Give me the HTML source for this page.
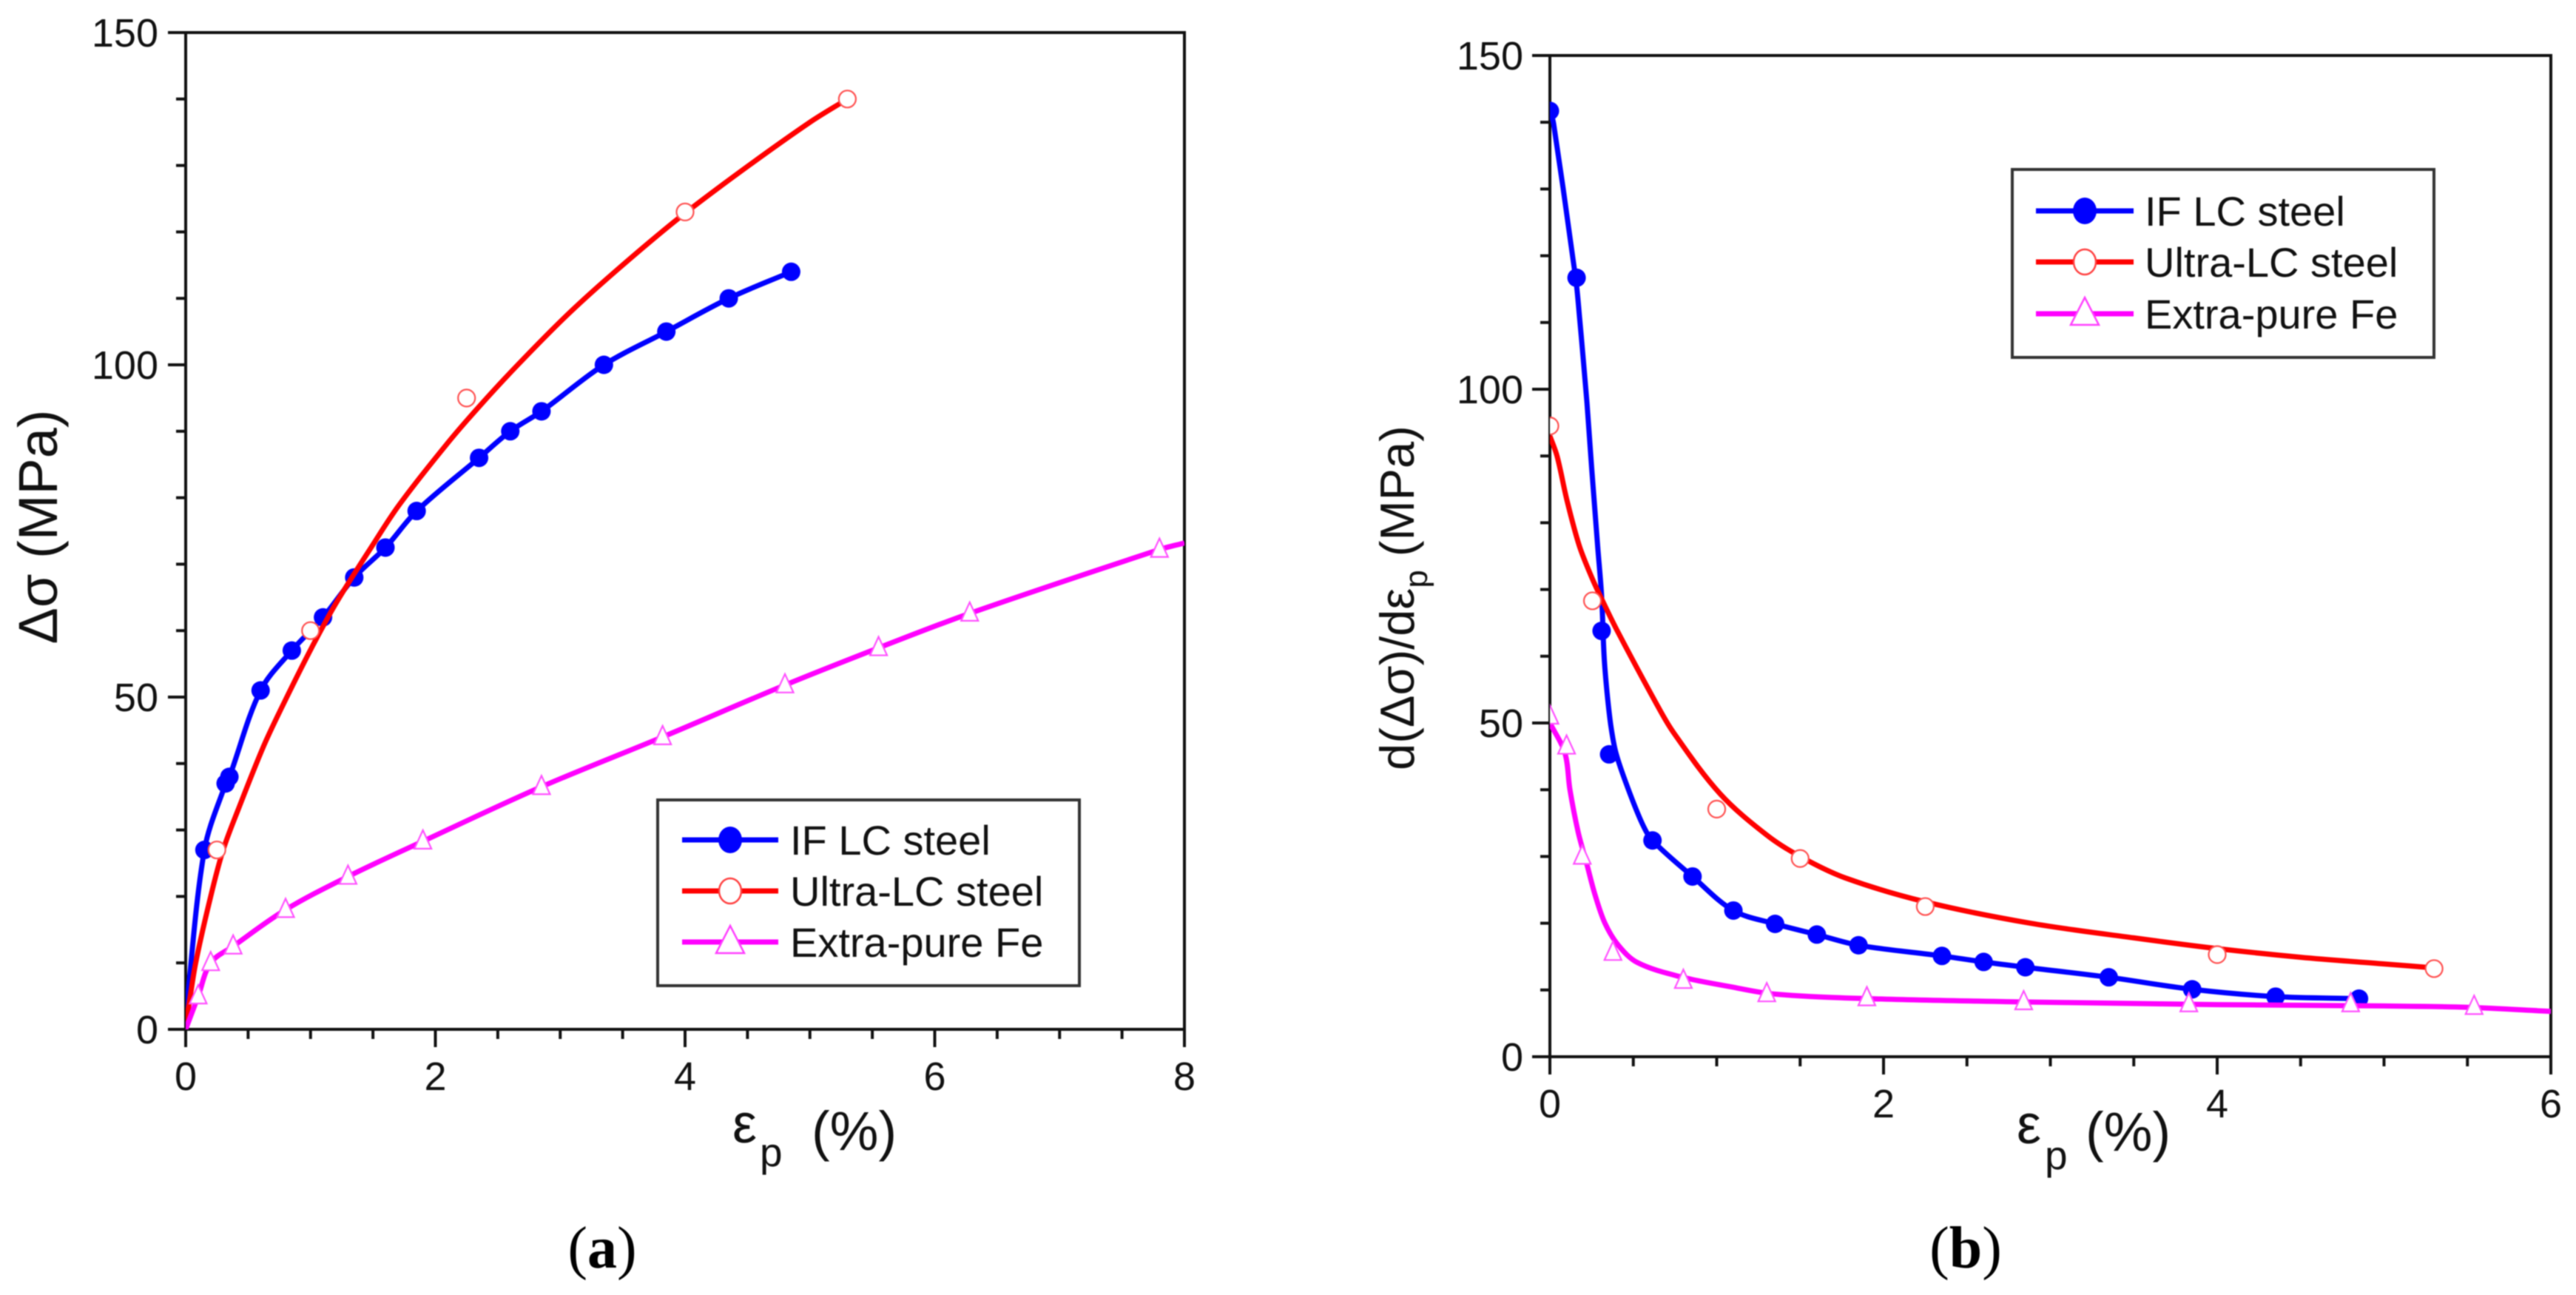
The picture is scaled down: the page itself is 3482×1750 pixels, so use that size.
<!DOCTYPE html>
<html lang="en">
<head>
<meta charset="utf-8">
<title>Work hardening of IF LC steel, Ultra-LC steel and Extra-pure Fe</title>
<style>
  html,body{margin:0;padding:0;background:#fff;width:3482px;height:1750px;overflow:hidden}
  svg{display:block;filter:blur(0.9px)}
  text{font-family:"Liberation Sans",Arial,sans-serif;fill:#111}
  .tick{font-size:54px}
  .leg{font-size:56px}
  .title{font-size:74px}
  .title-b{font-size:65px}
  .sub{font-size:55px}
  .sub-b{font-size:44px}
  .cap{font-family:"Liberation Serif",serif;font-size:80px;fill:#000}
</style>
</head>
<body>
<svg id="figure" xmlns="http://www.w3.org/2000/svg" width="3482" height="1750" viewBox="0 0 3482 1750">
  <defs>
    <clipPath id="clip-a"><rect x="251" y="44" width="1350" height="1347"/></clipPath>
    <clipPath id="clip-b"><rect x="2095" y="75" width="1353" height="1353"/></clipPath>
  </defs>
  <rect width="3482" height="1750" fill="#fff"/>

  <g id="panel-a">
    <rect x="251" y="44" width="1350" height="1347" fill="none" stroke="#111" stroke-width="4"/>
    <g id="ticks-a"></g>
    <g id="series-a" clip-path="url(#clip-a)"></g>
    <text class="title" transform="translate(77 712) rotate(-90)" text-anchor="middle">Δσ (MPa)</text>
    <text class="title"><tspan x="990" y="1544">ε</tspan><tspan class="sub" x="1027" y="1576">p</tspan><tspan x="1097" y="1554">(%)</tspan></text>
    <text class="cap" x="814" y="1713" text-anchor="middle">(<tspan font-weight="bold">a</tspan>)</text>
    <g>
      <rect x="889" y="1081" width="570" height="251" fill="#fff" stroke="#333" stroke-width="4"/>
      <line x1="922" y1="1135" x2="1052" y2="1135" stroke="#0000ff" stroke-width="7"/>
      <ellipse cx="987" cy="1135" rx="16" ry="18" fill="#0000ff"/>
      <text class="leg" x="1068" y="1155">IF LC steel</text>
      <line x1="922" y1="1204" x2="1052" y2="1204" stroke="#ff0000" stroke-width="7"/>
      <ellipse cx="987" cy="1204" rx="15" ry="17" fill="#fff" stroke="#ff4040" stroke-width="2.5"/>
      <text class="leg" x="1068" y="1224">Ultra-LC steel</text>
      <line x1="922" y1="1273" x2="1052" y2="1273" stroke="#ff00ff" stroke-width="7"/>
      <polygon points="987,1251 1006,1288 968,1288" fill="#fff" stroke="#ff40ff" stroke-width="2.5"/>
      <text class="leg" x="1068" y="1293">Extra-pure Fe</text>
    </g>
  </g>

  <g id="panel-b">
    <rect x="2095" y="75" width="1353" height="1353" fill="none" stroke="#111" stroke-width="4"/>
    <g id="ticks-b"></g>
    <g id="series-b" clip-path="url(#clip-b)"></g>
    <text class="title-b" transform="translate(1911 808) rotate(-90)" text-anchor="middle">d(Δσ)/dε<tspan class="sub-b" dy="18">p</tspan><tspan dy="-18"> (MPa)</tspan></text>
    <text class="title"><tspan x="2726" y="1545">ε</tspan><tspan class="sub" x="2764" y="1580">p</tspan><tspan x="2819" y="1555">(%)</tspan></text>
    <text class="cap" x="2657" y="1713" text-anchor="middle">(<tspan font-weight="bold">b</tspan>)</text>
    <g>
      <rect x="2720" y="229" width="570" height="254" fill="#fff" stroke="#333" stroke-width="4"/>
      <line x1="2752" y1="285" x2="2884" y2="285" stroke="#0000ff" stroke-width="7"/>
      <ellipse cx="2818" cy="285" rx="16" ry="18" fill="#0000ff"/>
      <text class="leg" x="2899" y="305">IF LC steel</text>
      <line x1="2752" y1="354" x2="2884" y2="354" stroke="#ff0000" stroke-width="7"/>
      <ellipse cx="2818" cy="354" rx="15" ry="17" fill="#fff" stroke="#ff4040" stroke-width="2.5"/>
      <text class="leg" x="2899" y="374">Ultra-LC steel</text>
      <line x1="2752" y1="424" x2="2884" y2="424" stroke="#ff00ff" stroke-width="7"/>
      <polygon points="2818,402 2837,439 2799,439" fill="#fff" stroke="#ff40ff" stroke-width="2.5"/>
      <text class="leg" x="2899" y="444">Extra-pure Fe</text>
    </g>
  </g>
</svg>

<script>
/* ---------- Panel (a) data ---------- */
const aXMajorTicks = [0, 2, 4, 6, 8];
const aXMinorTicks = [0.5, 1, 1.5, 2.5, 3, 3.5, 4.5, 5, 5.5, 6.5, 7, 7.5];
const aYMajorTicks = [0, 50, 100, 150];
const aYMinorTicks = [10, 20, 30, 40, 60, 70, 80, 90, 110, 120, 130, 140];

const aIfX = [0.15, 0.32, 0.35, 0.6, 0.85, 1.1, 1.35, 1.6, 1.85, 2.35, 2.6, 2.85, 3.35, 3.85, 4.35, 4.85];
const aIfY = [27, 37, 38, 51, 57, 62, 68, 72.5, 78, 86, 90, 93, 100, 105, 110, 114];
const aIfCurveX = [0, ...aIfX];
const aIfCurveY = [2, ...aIfY];

const aUltraX = [0.25, 1, 2.25, 4, 5.3];
const aUltraY = [27, 60, 95, 123, 140];
const aUltraCurveX = [0, 0.02, 0.08, 0.2, 0.3, 0.419, 0.626, 0.784, 1.011, 1.2, 1.495, 1.713, 2.088, 2.345, 2.66, 3.056, 3.45, 3.945, 4.438, 5, 5.3];
const aUltraCurveY = [1, 3, 10, 20, 27, 33, 42.7, 49, 57.5, 64, 72.8, 79, 88, 93.6, 100, 107.5, 114.2, 122, 129, 136.5, 140];

const aPureX = [0.1, 0.2, 0.38, 0.8, 1.3, 1.9, 2.85, 3.82, 4.8, 5.55, 6.28, 7.8];
const aPureY = [5, 10, 12.5, 18, 23, 28.3, 36.5, 44, 51.8, 57.4, 62.6, 72.2];
const aPureCurveX = [0, ...aPureX, 8];
const aPureCurveY = [0, ...aPureY, 73.2];

/* ---------- Panel (b) data ---------- */
const bXMajorTicks = [0, 2, 4, 6];
const bXMinorTicks = [0.5, 1, 1.5, 2.5, 3, 3.5, 4.5, 5, 5.5];
const bYMajorTicks = [0, 50, 100, 150];
const bYMinorTicks = [10, 20, 30, 40, 60, 70, 80, 90, 110, 120, 130, 140];

const bIfX = [0, 0.16, 0.31, 0.355, 0.615, 0.855, 1.1, 1.35, 1.6, 1.85, 2.35, 2.6, 2.85, 3.35, 3.85, 4.35, 4.85];
const bIfY = [141.7, 116.7, 63.8, 45.3, 32.4, 27, 21.9, 19.9, 18.3, 16.7, 15.1, 14.2, 13.4, 11.9, 10.1, 9, 8.7];
const bIfCurveX = [0, 0.022, 0.155, 0.177, 0.2, 0.222, 0.251, 0.288, 0.31, 0.325, 0.343, 0.366, 0.396, 0.465, 0.554, 0.615, 0.855, 1.1, 1.35, 1.6, 1.85, 2.35, 2.6, 2.85, 3.35, 3.85, 4.35, 4.85];
const bIfCurveY = [142, 139.8, 116.5, 111, 104.5, 98, 88, 76, 69, 60, 54.5, 49.5, 45.5, 40.4, 34.9, 32.4, 27, 21.9, 19.9, 18.3, 16.7, 15.1, 14.2, 13.4, 11.9, 10.1, 9, 8.7];

const bUltraX = [0, 0.255, 1, 1.5, 2.25, 4, 5.3];
const bUltraY = [94.5, 68.3, 37.1, 29.7, 22.5, 15.3, 13.2];
const bUltraCurveX = [0, 0.044, 0.103, 0.177, 0.251, 0.31, 0.4, 0.636, 0.74, 1.02, 1.3, 1.5, 1.77, 2.25, 2.88, 3.5, 4, 4.5, 5, 5.3];
const bUltraCurveY = [93, 89.9, 83.3, 76.5, 71.8, 68.6, 64, 53, 48.6, 39.4, 33.2, 30, 26.8, 23.2, 20, 17.8, 16.2, 14.9, 13.9, 13.3];

const bPureX = [0, 0.1, 0.194, 0.378, 0.8, 1.3, 1.9, 2.84, 3.83, 4.8, 5.54];
const bPureY = [51, 46.5, 30, 15.6, 11.4, 9.4, 8.8, 8.2, 7.9, 7.9, 7.5];
const bPureCurveX = [0, 0.09, 0.12, 0.17, 0.22, 0.27, 0.33, 0.41, 0.525, 0.78, 1.08, 1.34, 1.9, 2.84, 4, 5, 5.5, 6];
const bPureCurveY = [50, 45.5, 40, 33.6, 29, 24.3, 20, 16.7, 14.1, 12, 10.5, 9.4, 8.7, 8.2, 7.8, 7.6, 7.4, 6.8];

/* ---------- Axis functions ---------- */
function aXScale(v) { return 251 + v * 1350 / 8; }
function aYScale(v) { return 1391 - v * 1347 / 150; }
function bXScale(v) { return 2095 + v * 1353 / 6; }
function bYScale(v) { return 1428 - v * 1353 / 150; }

const SVG_NS = 'http://www.w3.org/2000/svg';
function svgEl(tag, attrs, parent) {
  const node = document.createElementNS(SVG_NS, tag);
  Object.keys(attrs).forEach(function (k) { node.setAttribute(k, attrs[k]); });
  parent.appendChild(node);
  return node;
}

function unitVector(a, b) {
  const dx = b[0] - a[0], dy = b[1] - a[1];
  const len = Math.hypot(dx, dy) || 1;
  return [dx / len, dy / len];
}

function splinePath(xs, ys, xScale, yScale) {
  const p = xs.map(function (x, i) { return [xScale(x), yScale(ys[i])]; });
  let d = 'M' + p[0][0].toFixed(1) + ' ' + p[0][1].toFixed(1);
  for (let i = 0; i < p.length - 1; i++) {
    const p0 = p[Math.max(i - 1, 0)], p1 = p[i], p2 = p[i + 1], p3 = p[Math.min(i + 2, p.length - 1)];
    const t1 = unitVector(p0, p2), t2 = unitVector(p1, p3);
    const seg = Math.hypot(p2[0] - p1[0], p2[1] - p1[1]) / 3;
    const c1x = p1[0] + t1[0] * seg, c1y = p1[1] + t1[1] * seg;
    const c2x = p2[0] - t2[0] * seg, c2y = p2[1] - t2[1] * seg;
    d += 'C' + c1x.toFixed(1) + ' ' + c1y.toFixed(1) + ' ' + c2x.toFixed(1) + ' ' + c2y.toFixed(1) + ' ' + p2[0].toFixed(1) + ' ' + p2[1].toFixed(1);
  }
  return d;
}

function drawAxisTicks(host, xScale, yScale, xMajor, xMinor, yMajor, yMinor, labelRight, labelBaselineOffset) {
  const x0 = xScale(0), y0 = yScale(0);
  xMajor.forEach(function (v) {
    const t = svgEl('line', { x1: xScale(v), x2: xScale(v), y1: y0, y2: y0 + 24, stroke: '#111', 'stroke-width': 4 }, host);
    
    
    const l = svgEl('text', { x: xScale(v), y: y0 + labelBaselineOffset, 'text-anchor': 'middle', class: 'tick' }, host);
    
    
    l.textContent = String(v);
  });
  xMinor.forEach(function (v) {
    const t = svgEl('line', { x1: xScale(v), x2: xScale(v), y1: y0, y2: y0 + 13, stroke: '#111', 'stroke-width': 4 }, host);
    
    
  });
  yMajor.forEach(function (v) {
    const t = svgEl('line', { x1: x0 - 24, x2: x0, y1: yScale(v), y2: yScale(v), stroke: '#111', 'stroke-width': 4 }, host);
    
    
    const l = svgEl('text', { x: labelRight, y: yScale(v) + 19, 'text-anchor': 'end', class: 'tick' }, host);
    
    
    l.textContent = String(v);
  });
  yMinor.forEach(function (v) {
    const t = svgEl('line', { x1: x0 - 13, x2: x0, y1: yScale(v), y2: yScale(v), stroke: '#111', 'stroke-width': 4 }, host);
    
    
  });
}

function drawIf(host, xScale, yScale, curveX, curveY, markX, markY) {
  const path = svgEl('path', { d: splinePath(curveX, curveY, xScale, yScale), fill: 'none', stroke: '#0000ff', 'stroke-width': 7, 'stroke-linejoin': 'round' }, host);
  
  
  markX.forEach(function (x, i) {
    const m = svgEl('circle', { cx: xScale(x), cy: yScale(markY[i]), r: 12.5, fill: '#0000ff' }, host);
    
    
  });
}

function drawUltra(host, xScale, yScale, curveX, curveY, markX, markY) {
  const path = svgEl('path', { d: splinePath(curveX, curveY, xScale, yScale), fill: 'none', stroke: '#ff0000', 'stroke-width': 7, 'stroke-linejoin': 'round' }, host);
  
  
  markX.forEach(function (x, i) {
    const m = svgEl('circle', { cx: xScale(x), cy: yScale(markY[i]), r: 11.5, fill: '#fff', stroke: '#ff5050', 'stroke-width': 2.2 }, host);
    
    
  });
}

function drawPure(host, xScale, yScale, curveX, curveY, markX, markY) {
  const path = svgEl('path', { d: splinePath(curveX, curveY, xScale, yScale), fill: 'none', stroke: '#ff00ff', 'stroke-width': 7, 'stroke-linejoin': 'round' }, host);
  
  
  markX.forEach(function (x, i) {
    const cx = xScale(x), cy = yScale(markY[i]);
    const pts = cx + ',' + (cy - 15) + ' ' + (cx + 11.5) + ',' + (cy + 10) + ' ' + (cx - 11.5) + ',' + (cy + 10);
    const m = svgEl('polygon', { points: pts, fill: '#fff', stroke: '#ff50ff', 'stroke-width': 2.2 }, host);
    
    
  });
}

const ticksA = document.getElementById('ticks-a');
const ticksB = document.getElementById('ticks-b');
const seriesA = document.getElementById('series-a');
const seriesB = document.getElementById('series-b');

drawAxisTicks(ticksA, aXScale, aYScale, aXMajorTicks, aXMinorTicks, aYMajorTicks, aYMinorTicks, 214, 82);
drawAxisTicks(ticksB, bXScale, bYScale, bXMajorTicks, bXMinorTicks, bYMajorTicks, bYMinorTicks, 2059, 82);

drawIf(seriesA, aXScale, aYScale, aIfCurveX, aIfCurveY, aIfX, aIfY);
drawUltra(seriesA, aXScale, aYScale, aUltraCurveX, aUltraCurveY, aUltraX, aUltraY);
drawPure(seriesA, aXScale, aYScale, aPureCurveX, aPureCurveY, aPureX, aPureY);

drawIf(seriesB, bXScale, bYScale, bIfCurveX, bIfCurveY, bIfX, bIfY);
drawUltra(seriesB, bXScale, bYScale, bUltraCurveX, bUltraCurveY, bUltraX, bUltraY);
drawPure(seriesB, bXScale, bYScale, bPureCurveX, bPureCurveY, bPureX, bPureY);
</script>
</body>
</html>
